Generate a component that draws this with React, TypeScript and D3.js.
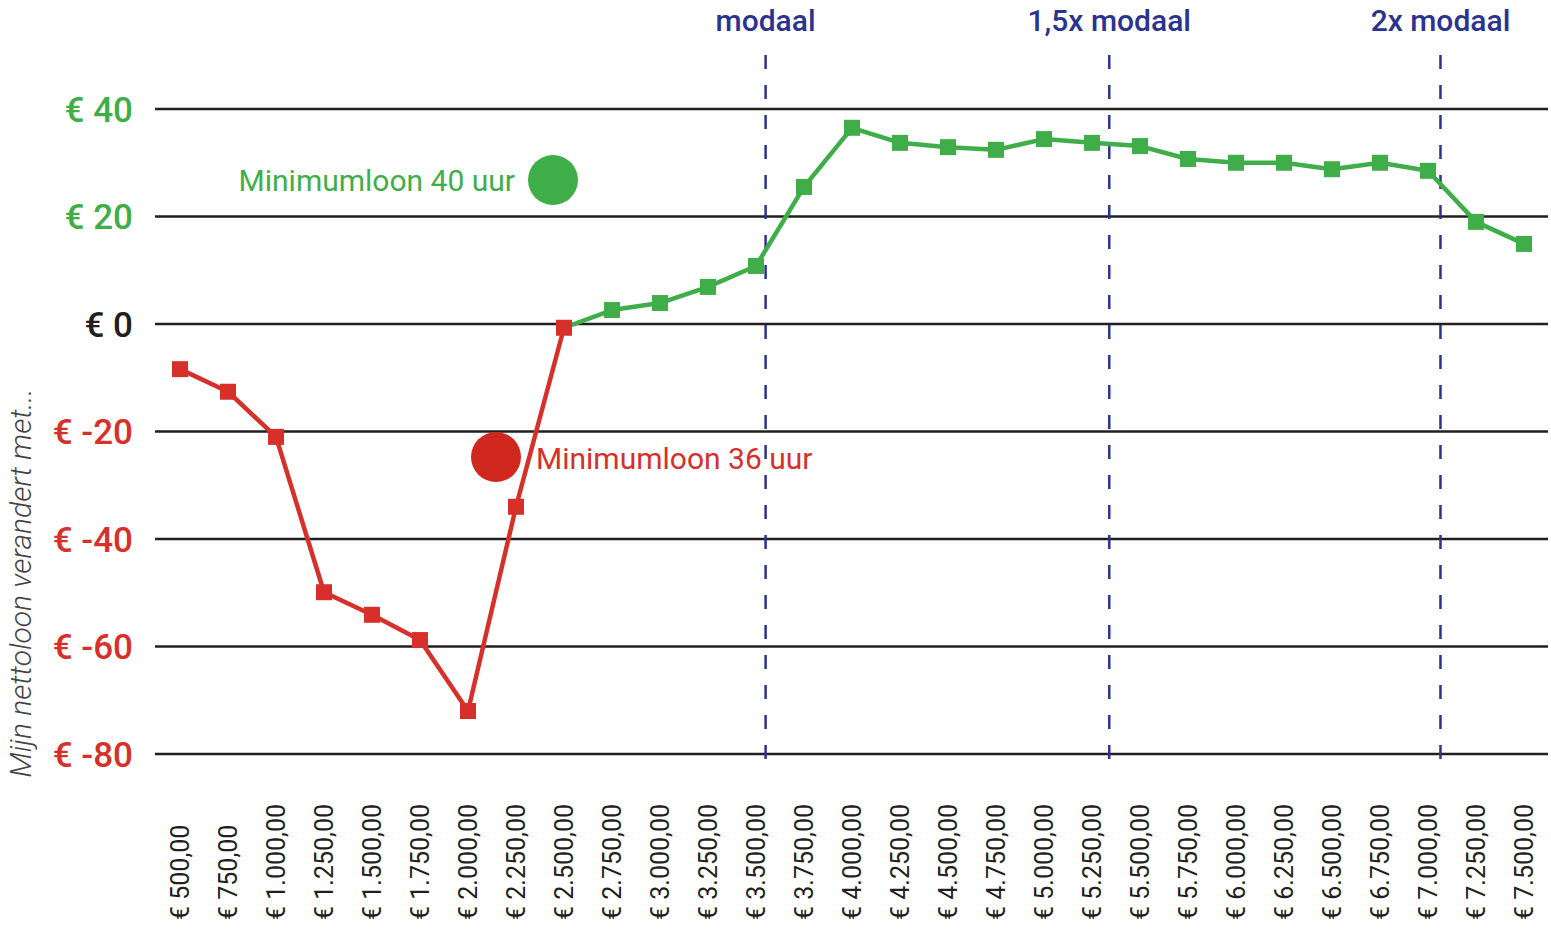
import * as d3 from "d3";

const salaries = [
  500, 750, 1000, 1250, 1500, 1750, 2000, 2250, 2500, 2750, 3000, 3250, 3500, 3750, 4000,
  4250, 4500, 4750, 5000, 5250, 5500, 5750, 6000, 6250, 6500, 6750, 7000, 7250, 7500,
];
const changes = [
  -8.4, -12.6, -21, -49.9, -54.1, -58.8, -72, -34, -0.7, 2.6, 3.9, 6.9, 10.8, 25.5, 36.5,
  33.7, 32.9, 32.4, 34.4, 33.7, 33.1, 30.7, 30, 30, 28.8, 30, 28.5, 19, 14.9,
];
const yTicks = [40, 20, 0, -20, -40, -60, -80];
const modaalLabels = ["modaal", "1,5x modaal", "2x modaal"];
const modaalSalaries = [3550, 5340, 7065];
const legendLabels = ["Minimumloon 40 uur", "Minimumloon 36 uur"];

const W = 1551;
const H = 930;
const GREEN = "#3fae49";
const RED = "#d7302b";
const NAVY = "#2b3390";
const INK = "#231f20";

const fmtSalary = (v: number) =>
  "€ " + d3.format(",.2f")(v).replace(/,/g, "#").replace(/\./g, ",").replace(/#/g, ".");

export default function App() {
  const x = d3.scaleLinear().domain([500, 7500]).range([180, 1524]);
  const y = d3.scaleLinear().domain([-80, 40]).range([754, 109]);

  const redIdx = d3.range(0, 9);
  const greenIdx = d3.range(8, salaries.length);
  const path = (idx: number[]) =>
    d3
      .line<number>()
      .x((i) => x(salaries[i]))
      .y((i) => y(changes[i]))(idx) || "";

  const tickColor = (v: number) => (v > 0 ? GREEN : v < 0 ? RED : INK);

  return (
    <svg
      width={W}
      height={H}
      style={{ position: "absolute", left: 0, top: 0, background: "#fff" }}
      fontFamily="Roboto, 'DejaVu Sans', sans-serif"
    >
      {/* grid + y labels */}
      {yTicks.map((t) => (
        <g key={t}>
          <line x1={155} x2={1548} y1={y(t)} y2={y(t)} stroke={INK} strokeWidth={2.5} />
          <text
            x={133}
            y={y(t)}
            dy="0.36em"
            textAnchor="end"
            fontSize={35}
            fontWeight={500}
            fill={tickColor(t)}
          >
            {"€ " + t}
          </text>
        </g>
      ))}

      {/* modaal reference lines */}
      {modaalSalaries.map((s, i) => (
        <g key={modaalLabels[i]}>
          <line
            x1={x(s)}
            x2={x(s)}
            y1={55}
            y2={760}
            stroke={NAVY}
            strokeWidth={2.5}
            strokeDasharray="14,16"
          />
          <text x={x(s)} y={31} textAnchor="middle" fontSize={30} fontWeight={500} fill={NAVY}>
            {modaalLabels[i]}
          </text>
        </g>
      ))}

      {/* series */}
      <path d={path(greenIdx)} fill="none" stroke={GREEN} strokeWidth={4.5} strokeLinejoin="round" />
      <path d={path(redIdx)} fill="none" stroke={RED} strokeWidth={4.5} strokeLinejoin="round" />
      {greenIdx.slice(1).map((i) => (
        <rect
          key={"g" + i}
          x={x(salaries[i]) - 8}
          y={y(changes[i]) - 8}
          width={16}
          height={16}
          fill={GREEN}
        />
      ))}
      {redIdx.map((i) => (
        <rect
          key={"r" + i}
          x={x(salaries[i]) - 8}
          y={y(changes[i]) - 8}
          width={16}
          height={16}
          fill={RED}
        />
      ))}

      {/* legend */}
      <circle cx={553} cy={180} r={25} fill={GREEN} />
      <text x={515} y={191} textAnchor="end" fontSize={30} fill={GREEN}>
        {legendLabels[0]}
      </text>
      <circle cx={496} cy={457} r={25} fill="#d0271f" />
      <text x={536} y={469} textAnchor="start" fontSize={30} fill={RED}>
        {legendLabels[1]}
      </text>

      {/* x labels */}
      {salaries.map((s) => (
        <text
          key={s}
          transform={`translate(${x(s)},920) rotate(-90)`}
          dy="0.36em"
          textAnchor="start"
          fontSize={25}
          fill={INK}
        >
          {fmtSalary(s)}
        </text>
      ))}

      {/* y title */}
      <text
        transform="translate(20,583) rotate(-90)"
        dy="0.36em"
        textAnchor="middle"
        fontSize={30}
        fontStyle="italic"
        fontWeight={300}
        fill="#444"
      >
        Mijn nettoloon verandert met...
      </text>
    </svg>
  );
}
